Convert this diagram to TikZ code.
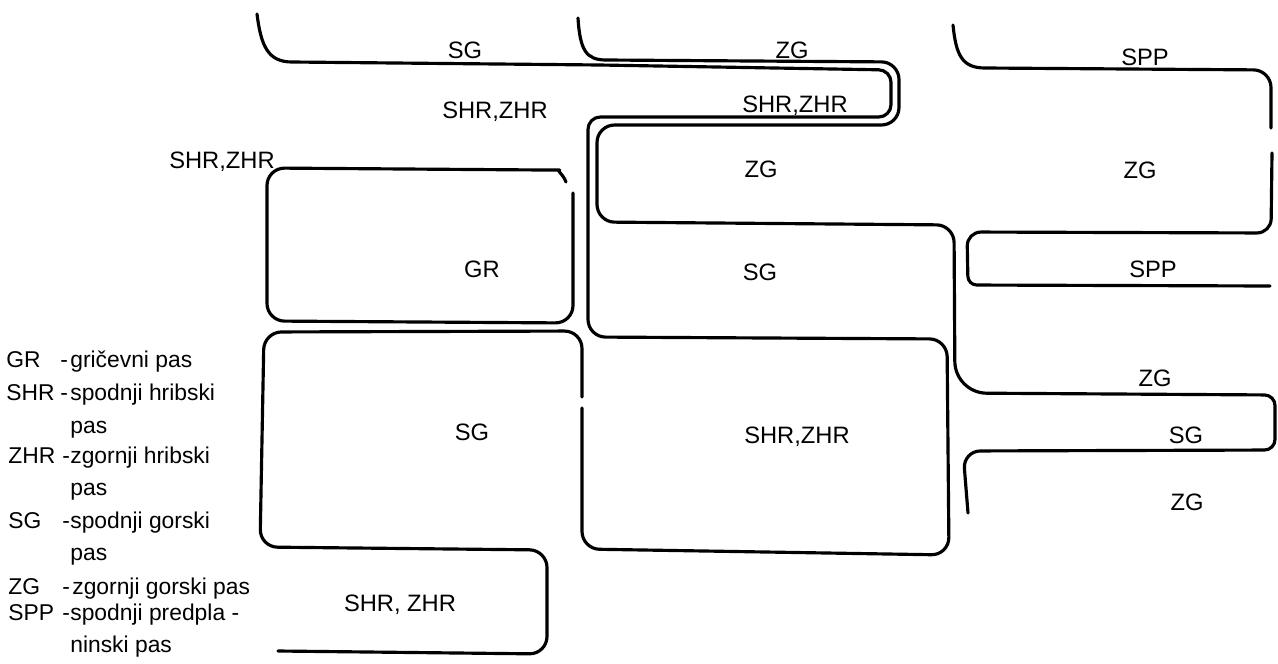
\documentclass[tikz,border=0pt]{standalone}
\usepackage{fontspec}
\setmainfont{Liberation Sans}
\begin{document}
\begin{tikzpicture}[x=0.02cm,y=-0.02cm,
  bound/.style={line width=1.8pt,line cap=round,line join=round},
  lab/.style={font=\fontsize{13.5}{16}\selectfont,anchor=base,inner sep=0pt},
  leg/.style={font=\fontsize{13}{16}\selectfont,anchor=base west,inner sep=0pt}]
\useasboundingbox (0,0) rectangle (1278,663);

% line from top SG, inner loop, middle box
\draw[bound] (257,14) .. controls (261,46) and (268,62) .. (292,62)
  [rounded corners=7pt] -- (600,65) -- (891,70) -- (891,117) -- (588,117)
  [rounded corners=10pt] -- (588,337) -- (947,339) -- (949,555) -- (582,549) -- (582,408);
% SG left box and SHR,ZHR bottom box
\draw[bound,rounded corners=10pt] (582,397) -- (582,331) -- (264,332) -- (260,547)
  -- (547,550) -- (547,654) -- (278,651);
% line from top ZG, outer loop, ZG middle, right ZG/SG
\draw[bound] (578,18) .. controls (580,50) and (586,60) .. (606,60)
  [rounded corners=10pt] -- (899,62) -- (899,125) -- (597,125) -- (597,222) -- (954,225)
  [rounded corners=18pt] -- (955,393) [rounded corners=6pt] -- (1275,395) -- (1275,450)
  [rounded corners=10pt] -- (963,451) -- (968,513);
% GR box
\draw[bound,rounded corners=10pt] (573,193) -- (573,323) -- (267,321) -- (267,168) -- (542,170)
  [sharp corners] .. controls (556,170) and (563,174) .. (566,182);
% SPP top line and right ZG box
\draw[bound] (953,25) .. controls (956,55) and (962,68) .. (985,68)
  [rounded corners=10pt] -- (1271,70) -- (1271,128);
\draw[bound,rounded corners=8pt] (1272,153) -- (1271,233) -- (967,232)
  [rounded corners=5pt] -- (968,285) -- (1270,286);

% region labels
\node[lab] (sg1) at (465,58) {SG};
\node[lab] (zg1) at (792,58) {ZG};
\node[lab] (spp1) at (1145,65) {SPP};
\node[lab] (shr1) at (495,118) {SHR,ZHR};
\node[lab] (shr2) at (795,112) {SHR,ZHR};
\node[lab] (zg2) at (761,177) {ZG};
\node[lab] (zg3) at (1140,178) {ZG};
\node[lab] (shr3) at (222,168) {SHR,ZHR};
\node[lab] (gr) at (482,277) {GR};
\node[lab] (sg2) at (760,280) {SG};
\node[lab] (spp2) at (1153,277) {SPP};
\node[lab] (zg4) at (1155,386) {ZG};
\node[lab] (sg3) at (1186,443) {SG};
\node[lab] (zg5) at (1187,510) {ZG};
\node[lab] (sg4) at (472,440) {SG};
\node[lab] (shr4) at (797,443) {SHR,ZHR};
\node[lab] (shr5) at (400,611) {SHR, ZHR};

% legend
\node[leg] (kGR) at (6,367) {GR};
\node[leg] (hGR) at (60,367) {-};
\node[leg] (dGR) at (70,367) {gričevni pas};
\node[leg] (kSHR) at (6,400) {SHR};
\node[leg] (hSHR) at (60,400) {-};
\node[leg] (dSHR) at (70,400) {spodnji hribski};
\node[leg] (dSHRb) at (70,433) {pas};
\node[leg] (kZHR) at (8,463) {ZHR};
\node[leg] (hZHR) at (62,463) {-};
\node[leg] (dZHR) at (70,463) {zgornji hribski};
\node[leg] (dZHRb) at (70,495) {pas};
\node[leg] (kSG) at (8,528) {SG};
\node[leg] (hSG) at (62,528) {-};
\node[leg] (dSG) at (70,528) {spodnji gorski};
\node[leg] (dSGb) at (70,560) {pas};
\node[leg] (kZG) at (8,594) {ZG};
\node[leg] (hZG) at (62,594) {-};
\node[leg] (dZG) at (72,594) {zgornji gorski pas};
\node[leg] (kSPP) at (8,620) {SPP};
\node[leg] (hSPP) at (62,620) {-};
\node[leg] (dSPP) at (70,620) {spodnji predpla -};
\node[leg] (dSPPb) at (70,652) {ninski pas};
\end{tikzpicture}
\end{document}
